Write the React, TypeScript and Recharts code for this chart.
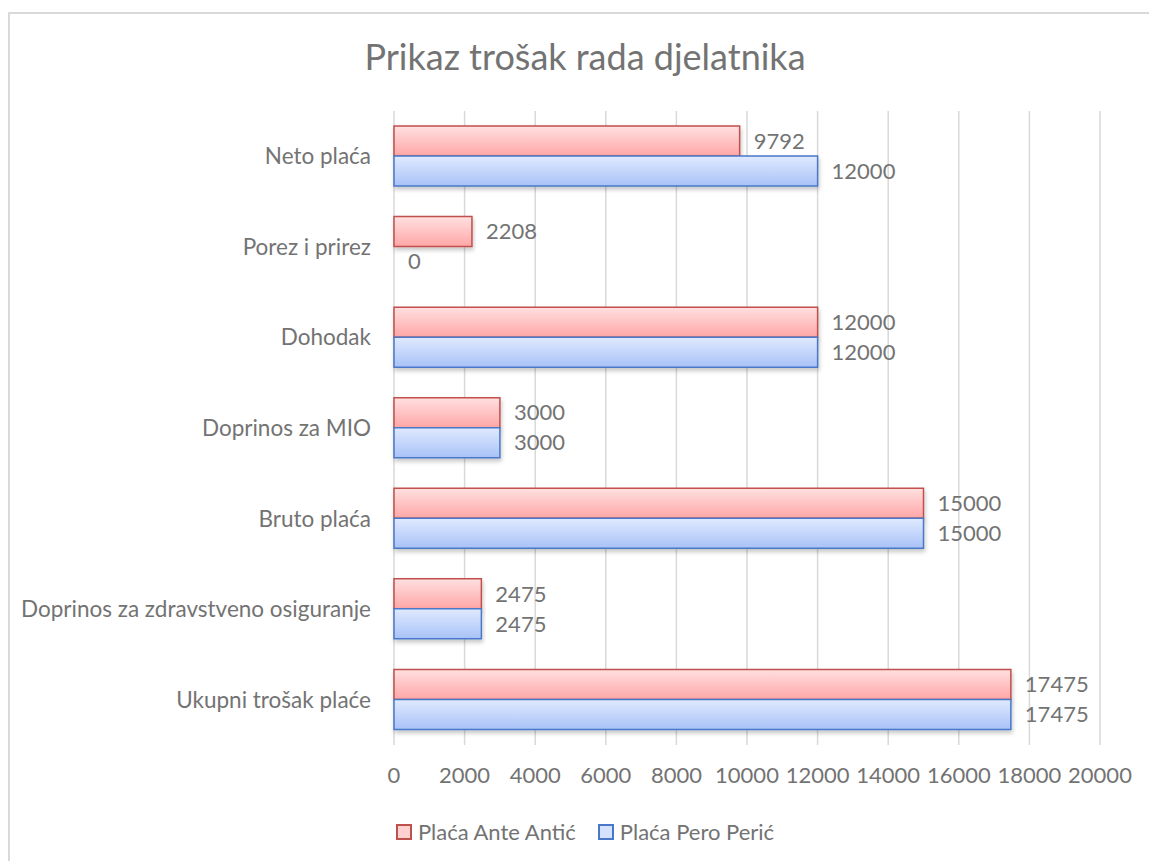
import { Bar, BarChart, CartesianGrid, LabelList, Legend, Rectangle, XAxis, YAxis } from 'recharts'

const categories = [
  'Neto plaća',
  'Porez i prirez',
  'Dohodak',
  'Doprinos za MIO',
  'Bruto plaća',
  'Doprinos za zdravstveno osiguranje',
  'Ukupni trošak plaće'
]
const anteAntic = [9792, 2208, 12000, 3000, 15000, 2475, 17475]
const peroPeric = [12000, 0, 12000, 3000, 15000, 2475, 17475]
const xTicks = [0, 2000, 4000, 6000, 8000, 10000, 12000, 14000, 16000, 18000, 20000]

const FONT = 'Lato, "Open Sans", sans-serif'
const TEXT = '#737373'

const data = categories.map((name, i) => ({
  name,
  ante: anteAntic[i],
  pero: peroPeric[i]
}))

const legendItems = [
  { label: 'Plaća Ante Antić', fill: '#ffd0d0', stroke: '#c0504d' },
  { label: 'Plaća Pero Perić', fill: '#d4e2ff', stroke: '#4a78c8' }
]

function ChartLegend(): React.JSX.Element {
  return (
    <div style={{ display: 'flex', justifyContent: 'center', gap: 22, paddingLeft: 62 }}>
      {legendItems.map((it) => (
        <div key={it.label} style={{ display: 'flex', alignItems: 'center', gap: 6 }}>
          <span
            style={{
              width: 12,
              height: 12,
              background: it.fill,
              border: `2px solid ${it.stroke}`,
              display: 'inline-block'
            }}
          />
          <span style={{ fontFamily: FONT, fontSize: 22, color: TEXT }}>{it.label}</span>
        </div>
      ))}
    </div>
  )
}

// zero-valued bars still need their "0" label, so draw labels ourselves
function valueLabel(props: any): React.JSX.Element {
  const { x, y, height, value } = props
  const w = value === 0 ? 0 : Number(props.width)
  return (
    <text
      x={Number(x) + w + 14}
      y={Number(y) + Number(height) / 2}
      dy="0.35em"
      fill={TEXT}
      fontSize={22}
      fontFamily={FONT}
    >
      {value}
    </text>
  )
}

// a zero bar gets a tiny min size so it keeps its label, but draws nothing
function barShape(props: any): React.JSX.Element {
  if (props.value === 0) return <g />
  return <Rectangle {...props} />
}

const tinyIfZero = (value: any) => (value === 0 ? 0.01 : 0)

export default function App(): React.JSX.Element {
  return (
    <div
      style={{
        position: 'fixed',
        left: 8,
        top: 12,
        width: 1141,
        height: 849,
        borderTop: '2px solid #d9d9d9',
        borderLeft: '2px solid #d9d9d9',
        background: '#fff',
        boxSizing: 'border-box'
      }}
    >
      <div
        style={{
          position: 'absolute',
          left: 0,
          width: 1150,
          top: 20,
          textAlign: 'center',
          fontFamily: FONT,
          fontSize: 36,
          color: TEXT
        }}
      >
        Prikaz trošak rada djelatnika
      </div>
      <div style={{ position: 'absolute', left: -2, top: -2 }}>
        <BarChart
          width={1141}
          height={849}
          data={data}
          layout="vertical"
          barGap={0}
          barSize={30}
          margin={{ top: 99, right: 49, bottom: 19, left: 0 }}
        >
          <defs>
            <linearGradient id="gRed" x1="0" y1="0" x2="0" y2="1">
              <stop offset="0%" stopColor="#ffe0e0" />
              <stop offset="100%" stopColor="#ffa6a6" />
            </linearGradient>
            <linearGradient id="gBlue" x1="0" y1="0" x2="0" y2="1">
              <stop offset="0%" stopColor="#e0eaff" />
              <stop offset="100%" stopColor="#a8c2f7" />
            </linearGradient>
            <filter id="shadow" x="-5%" y="-20%" width="110%" height="150%">
              <feDropShadow dx="1" dy="3" stdDeviation="2" floodColor="#000" floodOpacity="0.22" />
            </filter>
          </defs>
          <CartesianGrid horizontal={false} stroke="#d9d9d9" strokeWidth={1.5} />
          <XAxis
            type="number"
            domain={[0, 20000]}
            ticks={xTicks}
            interval={0}
            axisLine={false}
            tickLine={false}
            tickSize={0}
            tickMargin={22}
            height={73}
            tick={{ fill: TEXT, fontSize: 22, fontFamily: FONT }}
          />
          <YAxis
            type="category"
            dataKey="name"
            width={386}
            axisLine={false}
            tickLine={false}
            tickSize={0}
            tickMargin={23}
            interval={0}
            tick={{ fill: TEXT, fontSize: 22.5, fontFamily: FONT }}
          />
          <Legend verticalAlign="bottom" height={24} content={() => <ChartLegend />} />
          <Bar
            dataKey="ante"
            name="Plaća Ante Antić"
            fill="url(#gRed)"
            stroke="#c0504d"
            strokeWidth={1.5}
            filter="url(#shadow)"
            isAnimationActive={false}
          >
            <LabelList dataKey="ante" content={valueLabel} />
          </Bar>
          <Bar
            dataKey="pero"
            name="Plaća Pero Perić"
            fill="url(#gBlue)"
            stroke="#4a78c8"
            strokeWidth={1.5}
            filter="url(#shadow)"
            minPointSize={tinyIfZero}
            shape={barShape}
            isAnimationActive={false}
          >
            <LabelList dataKey="pero" content={valueLabel} />
          </Bar>
        </BarChart>
      </div>
    </div>
  )
}
